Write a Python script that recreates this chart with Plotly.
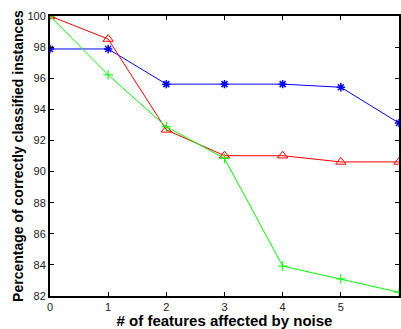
import plotly.graph_objects as go

x_vals = [0, 1, 2, 3, 4, 5, 6]
blue_vals = [97.88, 97.88, 95.62, 95.62, 95.62, 95.42, 93.12]
red_vals = [100.0, 98.52, 92.68, 91.02, 91.02, 90.62, 90.62]
green_vals = [100.0, 96.22, 92.88, 90.85, 83.92, 83.1, 82.24]
y_ticks = [82, 84, 86, 88, 90, 92, 94, 96, 98, 100]
x_ticks = [0, 1, 2, 3, 4, 5, 6]

fig = go.Figure()
fig.add_trace(go.Scatter(x=x_vals, y=blue_vals, mode="lines+markers",
                         line=dict(color="#0000ff", width=1),
                         marker=dict(symbol="asterisk-open", size=7, color="#0000ff",
                                     line=dict(color="#0000ff", width=1.5))))
fig.add_trace(go.Scatter(x=x_vals, y=red_vals, mode="lines+markers",
                         line=dict(color="#ff0000", width=1),
                         marker=dict(symbol="triangle-up-open", size=9, color="#ff0000",
                                     line=dict(color="#ff0000", width=1))))
fig.add_trace(go.Scatter(x=x_vals, y=green_vals, mode="lines+markers",
                         line=dict(color="#00ff00", width=1),
                         marker=dict(symbol="cross-thin-open", size=7, color="#00ff00",
                                     line=dict(color="#00ff00", width=1))))

font_family = "Liberation Sans, Arial, sans-serif"
fig.update_layout(
    width=401, height=329,
    margin=dict(l=50, r=0, t=16, b=33),
    paper_bgcolor="white", plot_bgcolor="white",
    showlegend=False,
    font=dict(family=font_family, color="#222222", size=11),
)
fig.update_xaxes(range=[0, 6], tickvals=x_ticks, ticks="inside", ticklen=4,
                 tickcolor="black", showline=True, linecolor="black", linewidth=2,
                 mirror="ticks", showgrid=False, zeroline=False,
                 tickfont=dict(size=11, family=font_family),
                 title=dict(text="<b># of features affected by noise</b>",
                            font=dict(size=15, family=font_family, color="black"),
                            standoff=1))
fig.update_yaxes(range=[82, 100], tickvals=y_ticks, ticks="inside", ticklen=4,
                 tickcolor="black", showline=True, linecolor="black", linewidth=2,
                 mirror="ticks", showgrid=False, zeroline=False,
                 tickfont=dict(size=11, family=font_family),
                 title=dict(text="<b>Percentage of correctly classified instances</b>",
                            font=dict(size=14, family=font_family, color="black"),
                            standoff=1))

fig.write_html("out.html", config={"displayModeBar": False},
               post_script="document.body.style.margin='0';document.body.style.overflow='hidden';")
